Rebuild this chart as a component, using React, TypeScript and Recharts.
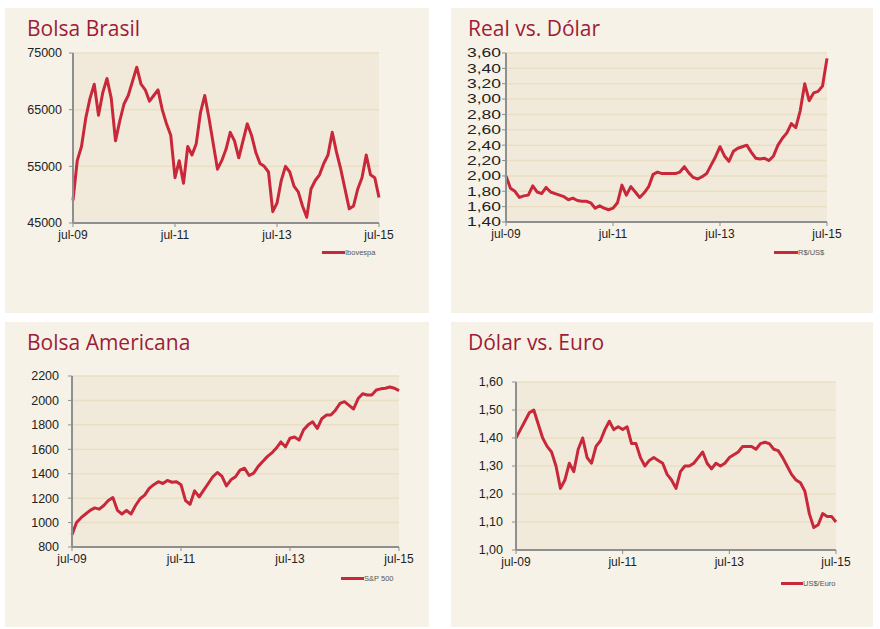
import { LineChart, Line, XAxis, YAxis, CartesianGrid } from 'recharts';

// months since jul-09 (0 .. 72), one point per month
const months = Array.from({ length: 73 }, (_, i) => i);
const xTicks = [0, 24, 48, 72];
const xTickLabels = ['jul-09', 'jul-11', 'jul-13', 'jul-15'];

const ibovespa = [
  49000, 56000, 58500, 63500, 67000, 69500, 64000, 68000, 70500, 67000,
  59500, 63000, 66000, 67500, 70000, 72500, 69500, 68500, 66500, 67500,
  68500, 65000, 62500, 60500, 53000, 56000, 52000, 58500, 57000, 59000,
  64500, 67500, 63500, 59000, 54500, 56000, 58000, 61000, 59500, 56500,
  59500, 62500, 60500, 57500, 55500, 55000, 54000, 47000, 48500, 52500,
  55000, 54000, 51500, 50500, 48000, 46000, 51000, 52500, 53500, 55500,
  57000, 61000, 57500, 54500, 51000, 47500, 48000, 51000, 53000, 57000,
  53500, 53000, 49500,
];

const realDolar = [
  2.0, 1.84, 1.8, 1.72, 1.74, 1.75, 1.87, 1.79, 1.77, 1.85,
  1.79, 1.77, 1.75, 1.73, 1.69, 1.71, 1.68, 1.67, 1.67, 1.65,
  1.58, 1.61, 1.58, 1.56, 1.58, 1.65, 1.88, 1.75, 1.86, 1.79,
  1.72, 1.78, 1.86, 2.02, 2.05, 2.03, 2.03, 2.03, 2.03, 2.05,
  2.12, 2.04, 1.98, 1.96, 1.99, 2.03, 2.14, 2.25, 2.38, 2.26,
  2.19, 2.32, 2.36, 2.38, 2.4, 2.31, 2.23, 2.22, 2.23, 2.2,
  2.26, 2.4, 2.49, 2.56, 2.68, 2.63, 2.85, 3.2, 2.98, 3.08,
  3.1, 3.17, 3.53,
];

const sp500 = [
  900, 1000, 1040, 1070, 1100, 1120, 1110, 1140, 1180, 1205,
  1100, 1070, 1100, 1070, 1140, 1195, 1225, 1280, 1310, 1335,
  1320, 1345, 1330, 1335, 1310, 1180, 1150, 1260, 1210, 1265,
  1320, 1375, 1410, 1380, 1300, 1350, 1375, 1430, 1445, 1385,
  1405, 1460, 1500, 1540, 1570, 1610, 1660, 1620, 1690, 1700,
  1675, 1760, 1800, 1825, 1770, 1850, 1880, 1880, 1920, 1975,
  1990, 1960, 1930, 2015, 2055, 2045, 2045, 2085, 2095, 2100,
  2110, 2100, 2080,
];

const dolarEuro = [
  1.4, 1.43, 1.46, 1.49, 1.5, 1.45, 1.4, 1.37, 1.35, 1.3,
  1.22, 1.25, 1.31, 1.28, 1.36, 1.4, 1.33, 1.31, 1.37, 1.39,
  1.43, 1.46, 1.43, 1.44, 1.43, 1.44, 1.38, 1.38, 1.33, 1.3,
  1.32, 1.33, 1.32, 1.31, 1.27, 1.25, 1.22, 1.28, 1.3, 1.3,
  1.31, 1.33, 1.35, 1.31, 1.29, 1.31, 1.3, 1.31, 1.33, 1.34,
  1.35, 1.37, 1.37, 1.37, 1.36, 1.38, 1.385, 1.38, 1.36, 1.355,
  1.33, 1.3, 1.27, 1.25, 1.24, 1.21, 1.13, 1.08, 1.09, 1.13,
  1.12, 1.12, 1.1,
];

const ibovTicks = [45000, 55000, 65000, 75000];
const realTicks = [1.4, 1.6, 1.8, 2.0, 2.2, 2.4, 2.6, 2.8, 3.0, 3.2, 3.4, 3.6];
const spTicks = [800, 1000, 1200, 1400, 1600, 1800, 2000, 2200];
const euroTicks = [1.0, 1.1, 1.2, 1.3, 1.4, 1.5, 1.6];

const LINE = '#c8283a';
const PANEL_BG = '#f6f2e7';
const PLOT_BG = '#f1eadb';
const GRID = '#eadfc4';
const AXIS = '#8f8f8f';

const comma = (v: number) => v.toFixed(2).replace('.', ',');

interface PanelProps {
  left: number;
  top: number;
  width: number;
  height: number;
  title: string;
  titleX: number;
  values: number[];
  name: string;
  domain: [number, number];
  yTicks: number[];
  yFormat: (v: number) => string;
  yWidth: number;
  yTickMargin: number;
  yLabelWidth?: number;
  margin: { top: number; right: number; bottom: number };
  legend: { x: number; y: number; w: number };
}

const Panel = (p: PanelProps) => {
  const data = months.map((m, i) => ({ m, v: p.values[i] }));

  const YTick = (props: any) => {
    const { x, y, payload } = props;
    const label = p.yFormat(payload.value);
    return (
      <text
        x={x}
        y={y}
        dy="0.35em"
        textAnchor="end"
        fontSize={12.5}
        fill="#222"
        fontFamily="'Liberation Sans', Arial, sans-serif"
        {...(p.yLabelWidth ? { textLength: p.yLabelWidth, lengthAdjust: 'spacingAndGlyphs' } : {})}
      >
        {label}
      </text>
    );
  };

  return (
    <div
      style={{
        position: 'absolute',
        left: p.left,
        top: p.top,
        width: p.width,
        height: p.height,
        background: PANEL_BG,
      }}
    >
      <div
        style={{
          position: 'absolute',
          left: p.titleX,
          top: 6,
          fontFamily: "'Open Sans', sans-serif",
          fontSize: 21,
          color: '#9e1c36',
          whiteSpace: 'nowrap',
        }}
      >
        {p.title}
      </div>
      <LineChart
        width={p.width}
        height={p.height}
        data={data}
        margin={{ top: p.margin.top, right: p.margin.right, bottom: p.margin.bottom, left: 0 }}
      >
        <CartesianGrid vertical={false} stroke={GRID} strokeWidth={1.5} fill={PLOT_BG} />
        <XAxis
          dataKey="m"
          type="number"
          domain={[0, 72]}
          ticks={xTicks}
          tickFormatter={(v: number) => xTickLabels[xTicks.indexOf(v)]}
          height={30}
          tickSize={4}
          tickMargin={3}
          axisLine={{ stroke: AXIS, strokeWidth: 2 }}
          tickLine={{ stroke: AXIS }}
          tick={{ fontSize: 12, fill: '#222', fontFamily: "'Liberation Sans', Arial, sans-serif" }}
          interval={0}
        />
        <YAxis
          domain={p.domain}
          ticks={p.yTicks}
          width={p.yWidth}
          tickSize={4}
          tickMargin={p.yTickMargin}
          axisLine={{ stroke: AXIS, strokeWidth: 2 }}
          tickLine={{ stroke: AXIS }}
          tick={YTick}
          interval={0}
          allowDataOverflow
        />
        <Line
          type="linear"
          dataKey="v"
          name={p.name}
          stroke={LINE}
          strokeWidth={3}
          strokeLinejoin="round"
          dot={false}
          isAnimationActive={false}
        />
      </LineChart>
      <div
        style={{
          position: 'absolute',
          left: p.legend.x,
          top: p.legend.y - 5,
          display: 'flex',
          alignItems: 'center',
          height: 10,
          fontFamily: "'Liberation Sans', Arial, sans-serif",
          fontSize: 7.5,
          color: '#555',
          whiteSpace: 'nowrap',
        }}
      >
        <span style={{ display: 'inline-block', width: p.legend.w, height: 3, background: LINE }} />
        <span>{p.name}</span>
      </div>
    </div>
  );
};

const App = () => (
  <div style={{ position: 'absolute', left: 0, top: 0, width: 880, height: 629, background: '#fff' }}>
    <Panel
      left={5}
      top={8}
      width={424}
      height={305}
      title="Bolsa Brasil"
      titleX={22}
      values={ibovespa}
      name="Ibovespa"
      domain={[45000, 75000]}
      yTicks={ibovTicks}
      yFormat={(v) => String(v)}
      yWidth={68}
      yTickMargin={7}
      margin={{ top: 45, right: 50, bottom: 60 }}
      legend={{ x: 317, y: 244, w: 23 }}
    />
    <Panel
      left={451}
      top={8}
      width={422}
      height={305}
      title="Real vs. Dólar"
      titleX={17}
      values={realDolar}
      name="R$/US$"
      domain={[1.4, 3.6]}
      yTicks={realTicks}
      yFormat={comma}
      yWidth={55}
      yTickMargin={1}
      yLabelWidth={34}
      margin={{ top: 45, right: 46, bottom: 61 }}
      legend={{ x: 323, y: 244, w: 24 }}
    />
    <Panel
      left={5}
      top={322}
      width={424}
      height={305}
      title="Bolsa Americana"
      titleX={22}
      values={sp500}
      name="S&P 500"
      domain={[800, 2200]}
      yTicks={spTicks}
      yFormat={(v) => String(v)}
      yWidth={67}
      yTickMargin={9}
      margin={{ top: 54, right: 30, bottom: 50 }}
      legend={{ x: 336, y: 256, w: 23 }}
    />
    <Panel
      left={451}
      top={322}
      width={422}
      height={305}
      title="Dólar vs. Euro"
      titleX={17}
      values={dolarEuro}
      name="US$/Euro"
      domain={[1.0, 1.6]}
      yTicks={euroTicks}
      yFormat={(v) => v.toFixed(2).replace('.', ',')}
      yWidth={65}
      yTickMargin={9}
      margin={{ top: 60, right: 37, bottom: 47 }}
      legend={{ x: 330, y: 261, w: 22 }}
    />
  </div>
);

export default App;
